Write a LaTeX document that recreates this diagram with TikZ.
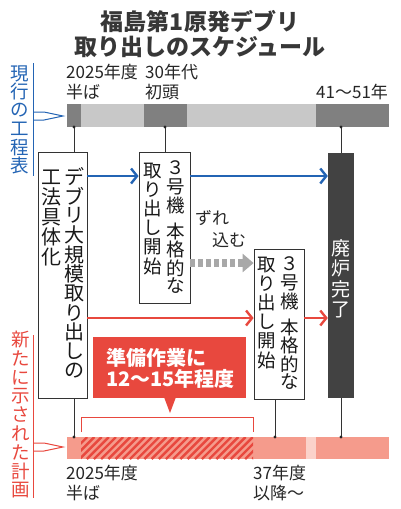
\documentclass[tikz,border=0pt]{standalone}
\usepackage{fontspec}
\setmainfont{Noto Sans CJK JP}
\usetikzlibrary{arrows.meta}
\usetikzlibrary{positioning}

\definecolor{planblue}{RGB}{35,100,180}
\definecolor{planred}{RGB}{232,72,62}
\definecolor{salmon}{RGB}{245,155,140}
\definecolor{palepink}{RGB}{251,210,202}
\definecolor{bardark}{RGB}{128,128,128}
\definecolor{barlight}{RGB}{200,200,200}
\definecolor{enddark}{RGB}{66,66,66}
\definecolor{delaygray}{RGB}{168,168,168}
\definecolor{titlegray}{RGB}{55,55,55}

\begin{document}
\begin{tikzpicture}[x=1pt,y=-1pt,
  box/.style={draw=black!80, line width=0.8pt, fill=white, inner sep=0pt},
  tchar/.style={inner sep=0pt, font=\fontsize{20}{20}\selectfont, text=black!90},
  tsmall/.style={tchar, font=\fontsize{18.5}{18.5}\selectfont},
  side/.style={inner sep=0pt, font=\fontsize{18.5}{18.5}\selectfont},
  lbl/.style={align=left, inner sep=0pt, anchor=north west, font=\fontsize{17}{19.5}\selectfont, text=black!85},
  link/.style={draw=black!80, line width=0.8pt},
  chev/.style={line width=2.4pt, -{Straight Barb[length=6pt,width=15pt]}},
  delay/.style={delaygray, line width=8pt, dash pattern=on 5pt off 3pt, -{Triangle[length=11pt,width=18pt]}}]

\useasboundingbox (0,0) rectangle (400,509);

% title
\node[font=\fontsize{23}{25}\selectfont\bfseries, text=titlegray, align=center] (title) at (200,34) {福島第1原発デブリ\\取り出しのスケジュール};

% current plan bar
\def\bt{104} \def\bb{127}
\foreach \a/\b/\c in {67/81/bardark, 81/144/barlight, 144/187/bardark, 187/316/barlight, 316/389/bardark}
  \fill[\c] (\a,\bt) rectangle (\b,\bb);

% new plan bar
\def\nt{437} \def\nb{459}
\fill[salmon] (67,\nt) rectangle (389,\nb);
\fill[palepink] (306,\nt) rectangle (316,\nb);
\begin{scope}
  \clip (81,\nt) rectangle (253,\nb);
  \foreach \x in {58,65.2,...,260}
    \draw[planred, line width=2.4pt] (\x,\nb) -- (\x+22,\nt);
\end{scope}

% labels
\node[lbl] (t2025) at (66,64) {2025年度\\半ば};
\node[lbl] (t30) at (145,64) {30年代\\初頭};
\node[lbl] (t41) at (316,83.5) {41〜51年};
\node[lbl] (b2025) at (66,465) {2025年度\\半ば};
\node[lbl] (b37) at (253,465) {37年度\\以降〜};

% side labels
\foreach \c [count=\i from 0] in {現,行,の,工,程,表}
  \node[side, text=planblue] (cur-\i) at (20,73.5+18.4*\i) {\c};
\draw[planblue, line width=1pt] (33,63) -- (33,176);
\draw[planblue, line width=1pt] (33,112) -- (44,112) -- (63,116) -- (44,120) -- (33,120);
\foreach \c [count=\i from 0] in {新,た,に,示,さ,れ,た,計,画}
  \node[side, text=planred] (new-\i) at (21,340+18.75*\i) {\c};
\draw[planred, line width=1pt] (33,335) -- (33,498);
\draw[planred, line width=1pt] (33,443) -- (44,443) -- (63,447) -- (44,451) -- (33,451);

% boxes
\node[box, minimum width=49pt, minimum height=246pt] (box1) at (62.5,275) {};
\foreach \c [count=\i from 0] in {デ,ブ,リ,大,規,模,取,り,出,し,の}
  \node[tchar] (box1r-\i) at (74,177+19.4*\i) {\c};
\foreach \c [count=\i from 0] in {工,法,具,体,化}
  \node[tchar] (box1l-\i) at (51,177+20*\i) {\c};

\node[box, minimum width=51pt, minimum height=151pt] (box2) at (164.5,227.5) {};
\foreach \c/\dy [count=\i] in {３/0,号/18.5,機/37,本/63,格/81.5,的/100,な/118}
  \node[tsmall] (box2r-\i) at (176,168+\dy) {\c};
\foreach \c [count=\i from 0] in {取,り,出,し,開,始}
  \node[tsmall] (box2l-\i) at (152.5,171+19*\i) {\c};

\node[box, minimum width=50pt, minimum height=150pt] (box3) at (279,324) {};
\foreach \c/\dy [count=\i] in {３/0,号/18.5,機/37,本/63,格/81.5,的/100,な/118}
  \node[tsmall] (box3r-\i) at (290,264+\dy) {\c};
\foreach \c [count=\i from 0] in {取,り,出,し,開,始}
  \node[tsmall] (box3l-\i) at (267,265+19*\i) {\c};

\node[fill=enddark, minimum width=26pt, minimum height=245pt, inner sep=0pt] (endbar) at (341,275.5) {};
\foreach \c [count=\i from 0] in {廃,炉,完,了}
  \node[tchar, text=white, font=\fontsize{19}{19}\selectfont] (end-\i) at (341,248+20.7*\i) {\c};

% links to bars
\coordinate (top1) at (74,\bb);
\coordinate (top2) at (165,\bb);
\coordinate (top3) at (341,\bb);
\coordinate (bot1) at (74,\nt);
\coordinate (bot3) at (275,\nt);
\coordinate (bot4) at (341,\nt);
\draw[link] (top1) -- (top1 |- box1.north);
\draw[link] (top2) -- (top2 |- box2.north);
\draw[link] (top3) -- (endbar.north);
\draw[link] (bot1) -- (bot1 |- box1.south);
\draw[link] (bot3) -- (bot3 |- box3.south);
\draw[link] (bot4) -- (endbar.south);
\foreach \p in {top1,top2,top3,bot1,bot3,bot4}
  \fill[black!85] (\p) circle (1.6pt);

% arrows
\coordinate (ya) at (0,176);
\coordinate (yb) at (0,263);
\coordinate (yc) at (0,318);
\draw[chev, planblue] (box1.east |- ya) -- (box2.west |- ya);
\draw[chev, planblue] (box2.east |- ya) -- (endbar.west |- ya);
\draw[chev, planred] (box1.east |- yc) -- (box3.west |- yc);
\draw[chev, planred] (box3.east |- yc) -- (endbar.west |- yc);
\draw[delay] (box2.east |- yb) -- (box3.west |- yb);
\node[lbl, anchor=west] (delay1) at (195,218) {ずれ};
\node[lbl, anchor=west] (delay2) at (212,240) {込む};

% preparation callout
\node[fill=planred, minimum width=153pt, minimum height=61pt, inner sep=0pt] (prep) at (169.5,367.5) {};
\fill[planred] (164,397) -- (176,397) -- (170,413) -- cycle;
\node[font=\fontsize{20}{21}\selectfont\bfseries, text=white, align=left, anchor=north west, inner sep=0pt] (preptxt) at (106,348) {準備作業に\\12〜15年程度};
\draw[planred, line width=1pt] (81,432) -- (81,417) -- (253,417) -- (253,432);

\end{tikzpicture}
\end{document}
